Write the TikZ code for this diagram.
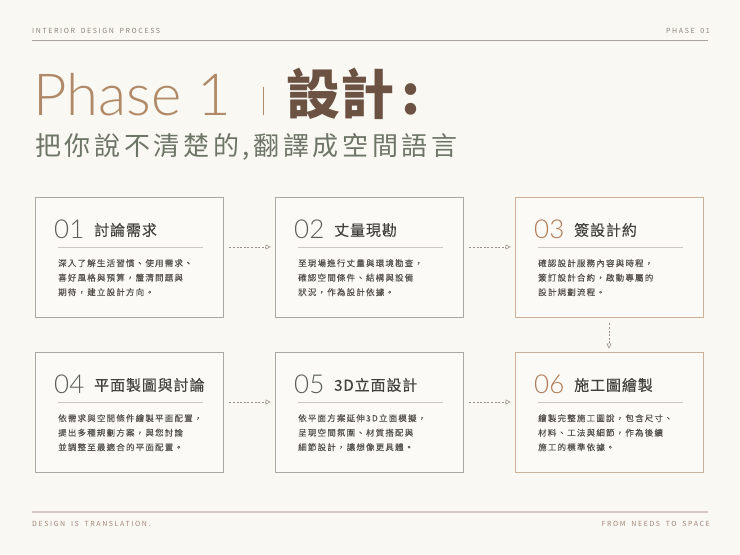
\documentclass[tikz,border=0pt]{standalone}
\usepackage{fontspec}
\setmainfont{Noto Sans CJK TC}
\newfontfamily\headfont[LetterSpace=23,WordSpace=1.8]{Noto Sans CJK TC}
\newfontfamily\subfont[LetterSpace=14]{Noto Sans CJK TC}
\newfontfamily\bodyfont[LetterSpace=14,FakeBold=0.12]{Noto Sans CJK TC}
\newfontfamily\ttlfont[LetterSpace=6,FakeBold=0.3]{Noto Sans CJK TC}
\newfontfamily\thinfont{Lato Light}
\usepackage{xcolor}
\usetikzlibrary{arrows.meta}
\usetikzlibrary{positioning}
\definecolor{bgcream}{HTML}{FAF8F2}
\definecolor{cardfill}{HTML}{FBFAF6}
\definecolor{ruleline}{HTML}{A9A29C}
\definecolor{headgray}{HTML}{8A817A}
\definecolor{phasetan}{HTML}{B08A68}
\definecolor{deepbrown}{HTML}{6B5243}
\definecolor{sage}{HTML}{6D7566}
\definecolor{cardgray}{HTML}{A9A9A4}
\definecolor{cardbrown}{HTML}{CDB09A}
\definecolor{numgray}{HTML}{5B5F58}
\definecolor{numbrown}{HTML}{B07B55}
\definecolor{ttlink}{HTML}{43413D}
\definecolor{bodygray}{HTML}{55524D}
\definecolor{divgray}{HTML}{CBC7C0}
\definecolor{flowgray}{HTML}{9A8E88}
\definecolor{footline}{HTML}{D7C8C4}
\definecolor{foottext}{HTML}{A08579}
\tikzset{
    card/.style={
        draw=cardgray,
        fill=cardfill,
        line width=0.9pt,
        minimum width=188pt,
        minimum height=120pt,
        inner sep=0pt
    },
    keycard/.style={
        card,
        draw=cardbrown
    },
    num/.style={
        anchor=west,
        inner sep=0pt,
        text=numgray,
        font=\thinfont\fontsize{26}{26}\selectfont
    },
    keynum/.style={
        num,
        text=numbrown
    },
    ttl/.style={
        anchor=west,
        inner sep=0pt,
        text=ttlink,
        font=\ttlfont\fontsize{15}{15}\selectfont
    },
    body/.style={
        anchor=north west,
        align=left,
        inner sep=0pt,
        text=bodygray,
        font=\bodyfont\fontsize{8.5}{14.5}\selectfont
    },
    divider/.style={
        draw=divgray,
        line width=0.9pt
    },
    flow/.style={
        draw=flowgray,
        line width=0.6pt,
        dash pattern=on 2pt off 1.6pt,
        -{Triangle[open,length=5pt,width=5pt]}
    },
    headtext/.style={
        inner sep=0pt,
        text=headgray,
        font=\headfont\fontsize{7}{7}\selectfont
    }
}

\begin{document}
\begin{tikzpicture}[x=1pt,y=-1pt]
    \fill[bgcream] (0,0) rectangle (740,555);
    \useasboundingbox (0,0) rectangle (740,555);

    % Header
    \node[headtext, anchor=west] (head) at (32,31) {INTERIOR DESIGN PROCESS};
    \node[headtext, anchor=east] (phase) at (710,31) {PHASE 01};
    \draw[ruleline, line width=0.8pt] (32,40) -- (708,40);

    % Title
    \node[anchor=base west, inner sep=0pt, text=phasetan,
          font=\thinfont\fontsize{58}{58}\selectfont] (title) at (33,115) {Phase 1};
    \draw[phasetan, line width=1pt] (263,87) -- (263,115);
    \node[anchor=base west, inner sep=0pt, text=deepbrown,
          font=\bfseries\fontsize{54}{54}\selectfont] (titlezh) at (286,114) {設計\hspace{7pt}:};
    \node[anchor=west, inner sep=0pt, text=sage,
          font=\subfont\fontsize{26}{26}\selectfont] (subtitle) at (35,147) {把你說不清楚的,翻譯成空間語言};

    % Step 1
    \begin{scope}[shift={(35,197)}]
        \node[card] (s1) at (94,60) {};
        \node[num] (n1) at (19,32) {01};
        \node[ttl] (t1) at (59,33) {討論需求};
        \draw[divider] (23,50) -- (168,50);
        \node[body] (b1) at (23,62) {深入了解生活習慣、使用需求、\\喜好風格與預算，釐清問題與\\期待，建立設計方向。};
    \end{scope}

    % Step 2
    \begin{scope}[shift={(275,197)}]
        \node[card] (s2) at (94,60) {};
        \node[num] (n2) at (19,32) {02};
        \node[ttl] (t2) at (59,33) {丈量現勘};
        \draw[divider] (23,50) -- (168,50);
        \node[body] (b2) at (23,62) {至現場進行丈量與環境勘查，\\確認空間條件、結構與設備\\狀況，作為設計依據。};
    \end{scope}

    % Step 3
    \begin{scope}[shift={(515,197)}]
        \node[keycard] (s3) at (94,60) {};
        \node[keynum] (n3) at (19,32) {03};
        \node[ttl] (t3) at (59,33) {簽設計約};
        \draw[divider] (23,50) -- (168,50);
        \node[body] (b3) at (23,62) {確認設計服務內容與時程，\\簽訂設計合約，啟動專屬的\\設計規劃流程。};
    \end{scope}

    % Step 4
    \begin{scope}[shift={(35,352)}]
        \node[card] (s4) at (94,60) {};
        \node[num] (n4) at (19,32) {04};
        \node[ttl] (t4) at (59,33) {平面製圖與討論};
        \draw[divider] (23,50) -- (168,50);
        \node[body] (b4) at (23,62) {依需求與空間條件繪製平面配置，\\提出多種規劃方案，與您討論\\並調整至最適合的平面配置。};
    \end{scope}

    % Step 5
    \begin{scope}[shift={(275,352)}]
        \node[card] (s5) at (94,60) {};
        \node[num] (n5) at (19,32) {05};
        \node[ttl] (t5) at (59,33) {3D立面設計};
        \draw[divider] (23,50) -- (168,50);
        \node[body] (b5) at (23,62) {依平面方案延伸3D立面模擬，\\呈現空間氛圍、材質搭配與\\細節設計，讓想像更具體。};
    \end{scope}

    % Step 6
    \begin{scope}[shift={(515,352)}]
        \node[keycard] (s6) at (94,60) {};
        \node[keynum] (n6) at (19,32) {06};
        \node[ttl] (t6) at (59,33) {施工圖繪製};
        \draw[divider] (23,50) -- (168,50);
        \node[body] (b6) at (23,62) {繪製完整施工圖說，包含尺寸、\\材料、工法與細節，作為後續\\施工的標準依據。};
    \end{scope}

    % Flow
    \draw[flow] ([xshift=6pt,yshift=10pt]s1.east) -- ([xshift=-4pt,yshift=10pt]s2.west);
    \draw[flow] ([xshift=6pt,yshift=10pt]s2.east) -- ([xshift=-4pt,yshift=10pt]s3.west);
    \draw[flow] ([yshift=-6pt]s3.south) -- ([yshift=3pt]s6.north);
    \draw[flow] ([xshift=6pt,yshift=10pt]s4.east) -- ([xshift=-4pt,yshift=10pt]s5.west);
    \draw[flow] ([xshift=6pt,yshift=10pt]s5.east) -- ([xshift=-4pt,yshift=10pt]s6.west);

    % Footer
    \draw[footline, line width=1.6pt] (32,512) -- (708,512);
    \node[headtext, text=foottext, anchor=west] (tagline) at (32,524) {DESIGN IS TRANSLATION.};
    \node[headtext, text=foottext, anchor=east] (motto) at (710,524) {FROM NEEDS TO SPACE};
\end{tikzpicture}
\end{document}
